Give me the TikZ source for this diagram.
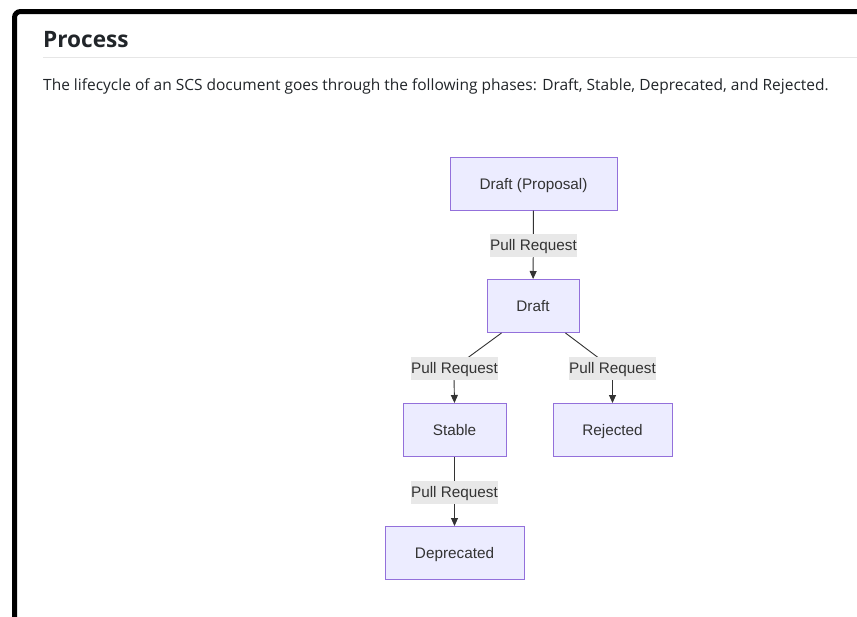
\documentclass[tikz,border=0pt]{standalone}
\usepackage{fontspec}
\setmainfont{Open Sans}
\newfontfamily\diafont{Liberation Sans}
\usetikzlibrary{arrows.meta,calc}
\definecolor{nodefill}{HTML}{ECECFF}
\definecolor{nodeline}{HTML}{9370DB}
\definecolor{edgecol}{HTML}{333333}
\definecolor{lblbg}{HTML}{E8E8E8}
\definecolor{textcol}{HTML}{333333}
\definecolor{pagetext}{HTML}{212529}
\definecolor{rulecol}{HTML}{E6E6E6}
\tikzset{
  state/.style={draw=nodeline, fill=nodefill, line width=1pt, text=textcol,
    font=\diafont\fontsize{15.3}{18}\selectfont, inner sep=0pt, minimum height=53pt,
    text height=12pt, text depth=1pt},
  elabel/.style={fill=lblbg, text=textcol, inner xsep=0.5pt, inner ysep=0pt,
    minimum height=23pt, font=\diafont\fontsize{15.3}{18}\selectfont,
    text height=12pt, text depth=1.5pt},
  edge/.style={draw=edgecol, line width=0.9pt, -{Triangle[length=8pt,width=7pt]}},
}
\begin{document}
\begin{tikzpicture}[x=1pt,y=-1pt]
\useasboundingbox (0,0) rectangle (857,616);
\clip (0,0) rectangle (857,616);
\fill[white] (0,0) rectangle (857,616);
\draw[line width=5pt, rounded corners=6pt] (14.5,11.5) rectangle (900,660);
% heading
\node[anchor=base west, inner sep=0pt, text=pagetext, font=\fontsize{22.6}{27}\selectfont\bfseries] (head) at (43,47) {Process};
\draw[rulecol, line width=1pt] (43,57.5) -- (857,57.5);
\node[anchor=base west, inner sep=0pt, text=pagetext, font=\fontsize{15.5}{18}\selectfont] (para) at (43,90)
  {The lifecycle of an SCS document goes through the following phases: Draft, Stable, Deprecated, and Rejected.};
% nodes
\node[state, minimum width=167pt] (prop) at (533.5,183.5) {Draft (Proposal)};
\node[state, minimum width=92pt] (draft) at (533,306) {Draft};
\node[state, minimum width=103pt] (stable) at (454.5,430) {Stable};
\node[state, minimum width=119pt] (rej) at (612.5,430) {Rejected};
\node[state, minimum width=139pt] (dep) at (454.5,553) {Deprecated};
% edges
\draw[edge] (prop) -- (draft);
\coordinate (l1) at (466,359);
\coordinate (l2) at (454,378);
\draw[edge] ([xshift=15pt]draft.south west) -- (l1) .. controls (455,367) .. (l2) -- (stable.north);
\coordinate (r1) at (600,359);
\coordinate (r2) at (612.5,378);
\draw[edge] ([xshift=-14pt]draft.south east) -- (r1) .. controls (612,367) .. (r2) -- (rej.north);
\draw[edge] (stable) -- (dep);
% labels
\node[elabel] (lab1) at (533.5,245.5) {Pull Request};
\node[elabel] (lab2) at (454.5,368.5) {Pull Request};
\node[elabel] (lab3) at (612.5,368.5) {Pull Request};
\node[elabel] (lab4) at (454.5,492) {Pull Request};
\end{tikzpicture}
\end{document}
